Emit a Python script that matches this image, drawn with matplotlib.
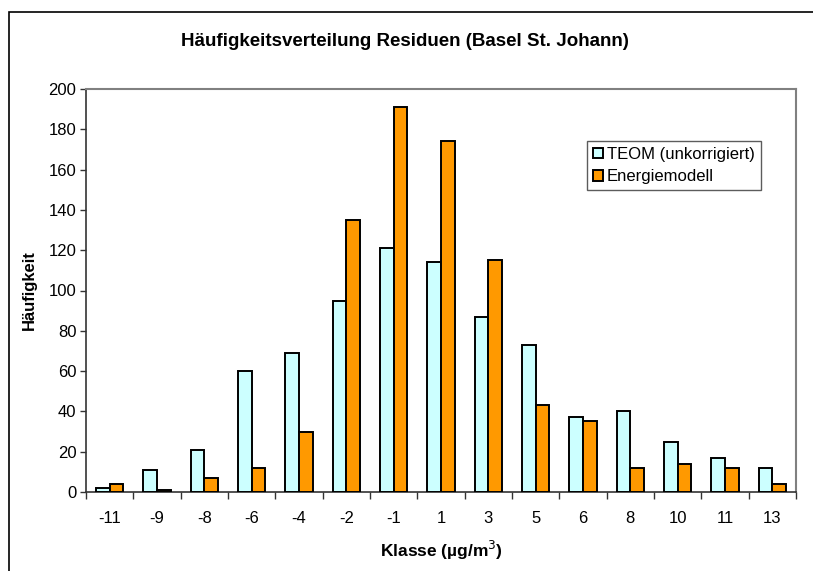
import numpy as np
import matplotlib.pyplot as plt
from matplotlib.patches import Rectangle

plt.rcParams['font.family'] = ['Liberation Sans', 'DejaVu Sans']

klassen = ["-11", "-9", "-8", "-6", "-4", "-2", "-1", "1", "3", "5", "6", "8", "10", "11", "13"]
teom = [2, 11, 21, 60, 69, 95, 121, 114, 87, 73, 37, 40, 25, 17, 12]
energie = [4, 1, 7, 12, 30, 135, 191, 174, 115, 43, 35, 12, 14, 12, 4]

fig = plt.figure(figsize=(8.13, 5.71), dpi=100)
ax = fig.add_axes([86 / 813, 1 - 492 / 571, (796 - 86) / 813, (492 - 89) / 571])

x = np.arange(len(klassen))
w = 0.29
ax.bar(x - w / 2, teom, w, color="#CCFFFF", edgecolor="black", linewidth=1.4,
       label="TEOM (unkorrigiert)", zorder=3)
ax.bar(x + w / 2, energie, w, color="#FF9900", edgecolor="black", linewidth=1.4,
       label="Energiemodell", zorder=3)

ax.set_xlim(-0.5, len(klassen) - 0.5)
ax.set_ylim(0, 200)
ax.set_yticks(range(0, 201, 20))
ax.set_xticks(x)
ax.set_xticklabels(klassen)
ax.set_xticks(np.arange(-0.5, len(klassen), 1), minor=True)
ax.tick_params(axis="x", which="major", length=0, pad=14, labelsize=12)
ax.tick_params(axis="x", which="minor", length=5, width=1, color="#333333")
ax.tick_params(axis="y", length=4, width=1, color="#333333", labelsize=12, pad=3)

for s in ["left", "bottom"]:
    ax.spines[s].set_color("#333333")
    ax.spines[s].set_linewidth(1.2)
for s in ["top", "right"]:
    ax.spines[s].set_color("#808080")
    ax.spines[s].set_linewidth(1.5)

ax.set_xlabel("Klasse (µg/m$^3$)", fontweight="bold", fontsize=12.5, labelpad=9)
ax.set_ylabel("Häufigkeit", fontweight="bold", fontsize=12, labelpad=8)
fig.text(405 / 813, 1 - 42 / 571, "Häufigkeitsverteilung Residuen (Basel St. Johann)",
         ha="center", va="center", fontweight="bold", fontsize=13.5)

leg = ax.legend(loc="upper left", bbox_to_anchor=((587 - 86) / 710, (492 - 141) / 403),
                fontsize=12, frameon=True, fancybox=False, edgecolor="#333333",
                handlelength=0.6, handleheight=0.6, handletextpad=0.25,
                borderpad=0.35, labelspacing=0.45, borderaxespad=0)
leg.get_frame().set_linewidth(1.0)

# outer chart frame
fig.patches.append(Rectangle((9 / 813, -0.01), 1.0, 1 - 12 / 571 + 0.01,
                             transform=fig.transFigure, fill=False,
                             edgecolor="black", linewidth=1.2))

fig.savefig("out.png", dpi=100)
